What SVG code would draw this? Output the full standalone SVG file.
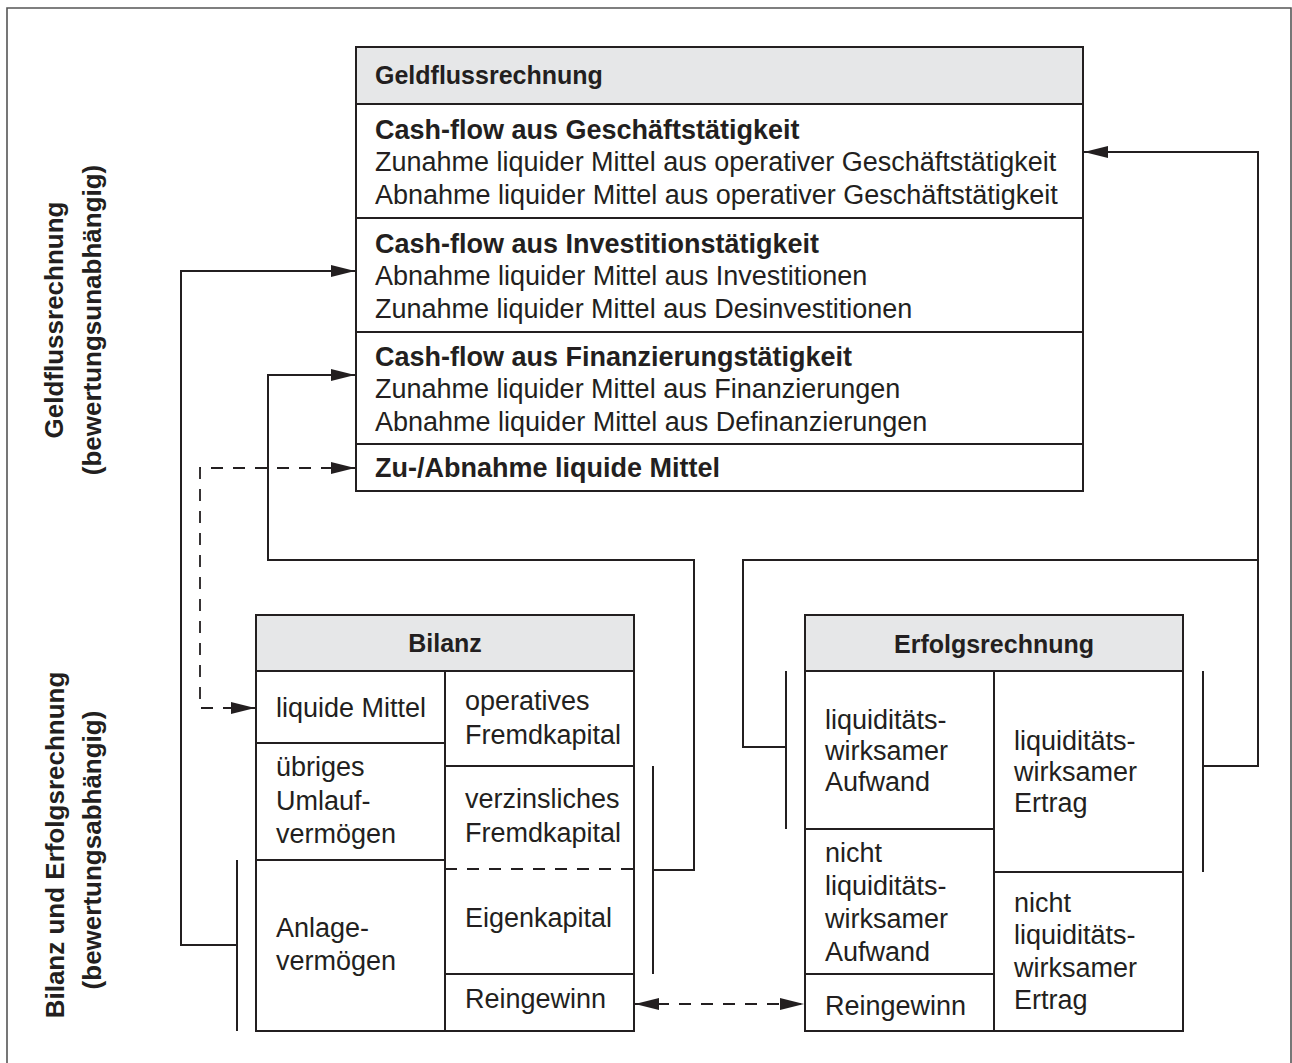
<svg xmlns="http://www.w3.org/2000/svg" width="1292" height="1063" viewBox="0 0 1292 1063">
<style>
.frame{fill:none;stroke:#555;stroke-width:1.6}
.box{fill:#fff;stroke:#231f20;stroke-width:2}
.hdr{fill:#e6e7e8;stroke:#231f20;stroke-width:2}
.ln{fill:none;stroke:#231f20;stroke-width:2}
.dash{fill:none;stroke:#231f20;stroke-width:1.8;stroke-dasharray:12 10}
text{font-family:"Liberation Sans",Arial,sans-serif;fill:#231f20}
.t{font-size:27px}
.b{font-size:27px;font-weight:bold}
.h{font-size:25px;font-weight:bold}
.v{font-size:26px;font-weight:bold}
.c{text-anchor:middle}
</style>
<defs>
<marker id="ah" markerUnits="userSpaceOnUse" markerWidth="24" markerHeight="12" refX="24" refY="6" orient="auto">
<path d="M0,0 L24,6 L0,12 z" fill="#231f20"/>
</marker>
<marker id="ahs" markerUnits="userSpaceOnUse" markerWidth="24" markerHeight="12" refX="0" refY="6" orient="auto">
<path d="M24,0 L0,6 L24,12 z" fill="#231f20"/>
</marker>
</defs>
<rect width="1292" height="1063" fill="#fff"/>
<path class="frame" d="M7,1063 V8 H1291 V1063"/>

<g id="label-geldfluss">
<text class="v c" transform="translate(63,320) rotate(-90)">Geldflussrechnung</text>
<text class="v c" transform="translate(101,320) rotate(-90)">(bewertungsunabhängig)</text>
</g>
<g id="label-bilanz-erfolg">
<text class="v c" transform="translate(64,845) rotate(-90)">Bilanz und Erfolgsrechnung</text>
<text class="v c" transform="translate(101,850) rotate(-90)">(bewertungsabhängig)</text>
</g>

<g id="geldflussrechnung">
<rect class="hdr" x="356" y="47" width="727" height="57"/>
<rect class="box" x="356" y="104" width="727" height="387"/>
<line class="ln" x1="356" y1="218" x2="1083" y2="218"/>
<line class="ln" x1="356" y1="332" x2="1083" y2="332"/>
<line class="ln" x1="356" y1="444" x2="1083" y2="444"/>
<text class="h" x="375" y="84">Geldflussrechnung</text>
<text class="b" x="375" y="139">Cash-flow aus Geschäftstätigkeit</text>
<text class="t" x="375" y="171">Zunahme liquider Mittel aus operativer Geschäftstätigkeit</text>
<text class="t" x="375" y="204">Abnahme liquider Mittel aus operativer Geschäftstätigkeit</text>
<text class="b" x="375" y="253">Cash-flow aus Investitionstätigkeit</text>
<text class="t" x="375" y="285">Abnahme liquider Mittel aus Investitionen</text>
<text class="t" x="375" y="318">Zunahme liquider Mittel aus Desinvestitionen</text>
<text class="b" x="375" y="366">Cash-flow aus Finanzierungstätigkeit</text>
<text class="t" x="375" y="398">Zunahme liquider Mittel aus Finanzierungen</text>
<text class="t" x="375" y="431">Abnahme liquider Mittel aus Definanzierungen</text>
<text class="b" x="375" y="477">Zu-/Abnahme liquide Mittel</text>
</g>

<g id="bilanz">
<rect class="hdr" x="256" y="615" width="378" height="56"/>
<rect class="box" x="256" y="671" width="378" height="360"/>
<line class="ln" x1="445" y1="671" x2="445" y2="1031"/>
<line class="ln" x1="256" y1="743" x2="445" y2="743"/>
<line class="ln" x1="256" y1="860" x2="445" y2="860"/>
<line class="ln" x1="445" y1="766" x2="634" y2="766"/>
<line class="dash" x1="445" y1="869" x2="634" y2="869"/>
<line class="ln" x1="445" y1="974" x2="634" y2="974"/>
<text class="h c" x="445" y="652">Bilanz</text>
<text class="t" x="276" y="717">liquide Mittel</text>
<text class="t" x="276" y="776">übriges</text>
<text class="t" x="276" y="810">Umlauf-</text>
<text class="t" x="276" y="843">vermögen</text>
<text class="t" x="276" y="937">Anlage-</text>
<text class="t" x="276" y="970">vermögen</text>
<text class="t" x="465" y="710">operatives</text>
<text class="t" x="465" y="744">Fremdkapital</text>
<text class="t" x="465" y="808">verzinsliches</text>
<text class="t" x="465" y="842">Fremdkapital</text>
<text class="t" x="465" y="927">Eigenkapital</text>
<text class="t" x="465" y="1008">Reingewinn</text>
</g>

<g id="erfolgsrechnung">
<rect class="hdr" x="805" y="615" width="378" height="56"/>
<rect class="box" x="805" y="671" width="378" height="360"/>
<line class="ln" x1="994" y1="671" x2="994" y2="1031"/>
<line class="ln" x1="805" y1="829" x2="994" y2="829"/>
<line class="ln" x1="805" y1="974" x2="994" y2="974"/>
<line class="ln" x1="994" y1="872" x2="1183" y2="872"/>
<text class="h c" x="994" y="653">Erfolgsrechnung</text>
<text class="t" x="825" y="729">liquiditäts-</text>
<text class="t" x="825" y="760">wirksamer</text>
<text class="t" x="825" y="791">Aufwand</text>
<text class="t" x="825" y="862">nicht</text>
<text class="t" x="825" y="895">liquiditäts-</text>
<text class="t" x="825" y="928">wirksamer</text>
<text class="t" x="825" y="961">Aufwand</text>
<text class="t" x="825" y="1015">Reingewinn</text>
<text class="t" x="1014" y="750">liquiditäts-</text>
<text class="t" x="1014" y="781">wirksamer</text>
<text class="t" x="1014" y="812">Ertrag</text>
<text class="t" x="1014" y="912">nicht</text>
<text class="t" x="1014" y="944">liquiditäts-</text>
<text class="t" x="1014" y="977">wirksamer</text>
<text class="t" x="1014" y="1009">Ertrag</text>
</g>

<g id="connectors">
<!-- brackets -->
<line class="ln" x1="237" y1="860" x2="237" y2="1031"/>
<line class="ln" x1="653" y1="766" x2="653" y2="974"/>
<line class="ln" x1="786" y1="671" x2="786" y2="829"/>
<line class="ln" x1="1203" y1="671" x2="1203" y2="872"/>
<!-- Anlagevermögen -> Investitionstätigkeit -->
<path class="ln" d="M237,945 H181 V271 H355" marker-end="url(#ah)"/>
<!-- verzinsliches FK + EK -> Finanzierungstätigkeit -->
<path class="ln" d="M653,870 H694 V560 H268 V375 H355" marker-end="url(#ah)"/>
<!-- Erfolgsrechnung -> Geschäftstätigkeit -->
<path class="ln" d="M786,747 H743 V560 H1258 V766 H1203"/>
<path class="ln" d="M1258,560 V152 H1084" marker-end="url(#ah)"/>
<!-- liquide Mittel <-> Zu-/Abnahme -->
<path class="dash" d="M355,468 H200 V708 H255" marker-start="url(#ahs)" marker-end="url(#ah)"/>
<!-- Reingewinn <-> Reingewinn -->
<path class="dash" d="M635,1004 H804" marker-start="url(#ahs)" marker-end="url(#ah)"/>
</g>
</svg>
